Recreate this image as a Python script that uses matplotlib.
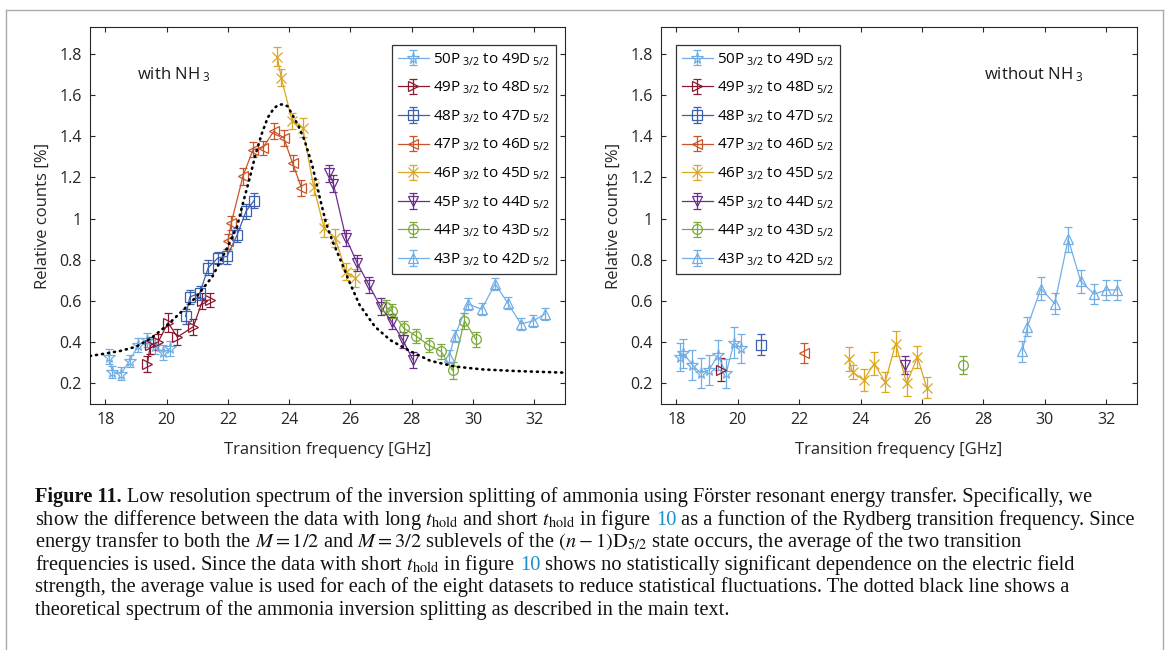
import numpy as np
import matplotlib
matplotlib.use('Agg')
import matplotlib.pyplot as plt
from matplotlib.lines import Line2D

plt.rcParams['font.family'] = ['Open Sans', 'DejaVu Sans']
plt.rcParams['mathtext.fontset'] = 'custom'
plt.rcParams['mathtext.rm'] = 'Open Sans'
plt.rcParams['mathtext.it'] = 'Open Sans:italic'
plt.rcParams['mathtext.bf'] = 'Open Sans:bold'

W, H = 1169, 650

# ---- data ----
labels = [r'50P$_{\;\mathrm{3/2}}$ to 49D$_{\;\mathrm{5/2}}$',
          r'49P$_{\;\mathrm{3/2}}$ to 48D$_{\;\mathrm{5/2}}$',
          r'48P$_{\;\mathrm{3/2}}$ to 47D$_{\;\mathrm{5/2}}$',
          r'47P$_{\;\mathrm{3/2}}$ to 46D$_{\;\mathrm{5/2}}$',
          r'46P$_{\;\mathrm{3/2}}$ to 45D$_{\;\mathrm{5/2}}$',
          r'45P$_{\;\mathrm{3/2}}$ to 44D$_{\;\mathrm{5/2}}$',
          r'44P$_{\;\mathrm{3/2}}$ to 43D$_{\;\mathrm{5/2}}$',
          r'43P$_{\;\mathrm{3/2}}$ to 42D$_{\;\mathrm{5/2}}$']
colors = ['#72aee6', '#8b1a30', '#3d5fb0', '#c8552a',
          '#dba723', '#6b2d8b', '#7aa83a', '#72aee6']
markers = ['*', '>', 's', '<', 'x', 'v', 'o', '^']

# with NH3
x50 = [18.12, 18.23, 18.52, 18.79, 19.07, 19.35, 19.62, 19.88, 20.12]
w50 = [0.33, 0.256, 0.248, 0.31, 0.385, 0.41, 0.38, 0.35, 0.37]
e50 = [0.035, 0.03, 0.03, 0.03, 0.035, 0.035, 0.035, 0.035, 0.035]

x49 = [19.37, 19.47, 19.72, 20.05, 20.35, 20.87, 21.17, 21.42]
w49 = [0.295, 0.385, 0.40, 0.495, 0.425, 0.475, 0.60, 0.605]
e49 = [0.04, 0.04, 0.04, 0.045, 0.04, 0.04, 0.04, 0.035]

x48 = [20.62, 20.76, 21.08, 21.36, 21.68, 21.97, 22.3, 22.59, 22.85]
w48 = [0.525, 0.62, 0.638, 0.762, 0.81, 0.816, 0.92, 1.035, 1.087]
e48 = [0.035, 0.035, 0.035, 0.035, 0.03, 0.035, 0.035, 0.035, 0.035]

x47 = [22.0, 22.11, 22.49, 22.82, 23.14, 23.5, 23.82, 24.11, 24.4]
w47 = [0.889, 0.979, 1.205, 1.335, 1.344, 1.424, 1.392, 1.27, 1.149]
e47 = [0.035, 0.035, 0.04, 0.035, 0.035, 0.04, 0.04, 0.04, 0.04]

x46 = [23.61, 23.74, 24.1, 24.44, 24.8, 25.14, 25.5, 25.85, 26.15]
w46 = [1.786, 1.684, 1.473, 1.441, 1.153, 0.954, 0.905, 0.743, 0.711]
e46 = [0.045, 0.04, 0.04, 0.045, 0.04, 0.045, 0.045, 0.04, 0.045]

x45 = [25.31, 25.44, 25.85, 26.22, 26.6, 26.98, 27.34, 27.71, 28.04]
w45 = [1.22, 1.17, 0.906, 0.784, 0.678, 0.573, 0.5, 0.41, 0.313]
e45 = [0.04, 0.04, 0.04, 0.04, 0.04, 0.04, 0.035, 0.04, 0.04]

x44 = [27.17, 27.34, 27.74, 28.14, 28.55, 28.96, 29.33, 29.72, 30.09]
w44 = [0.57, 0.552, 0.468, 0.43, 0.386, 0.355, 0.263, 0.504, 0.414]
e44 = [0.035, 0.035, 0.035, 0.035, 0.035, 0.035, 0.04, 0.04, 0.035]

x43 = [29.22, 29.4, 29.83, 30.28, 30.72, 31.13, 31.56, 31.96, 32.34]
w43 = [0.33, 0.43, 0.586, 0.56, 0.683, 0.59, 0.489, 0.503, 0.537]
e43 = [0.03, 0.03, 0.03, 0.03, 0.028, 0.03, 0.03, 0.028, 0.03]

# without NH3
wo50 = [0.328, 0.347, 0.29, 0.25, 0.265, 0.338, 0.25, 0.398, 0.37]
eo50 = [0.07, 0.07, 0.073, 0.073, 0.073, 0.073, 0.07, 0.075, 0.07]
xo49, wo49, eo49 = [19.47], [0.267], [0.055]
xo48, wo48, eo48 = [20.75], [0.388], [0.05]
xo47, wo47, eo47 = [22.16], [0.347], [0.047]
wo46 = [0.318, 0.255, 0.216, 0.296, 0.207, 0.393, 0.2, 0.328, 0.18]
eo46 = [0.06, 0.035, 0.055, 0.055, 0.05, 0.06, 0.06, 0.055, 0.05]
xo45, wo45, eo45 = [25.45], [0.29], [0.045]
xo44, wo44, eo44 = [27.34], [0.289], [0.045]
xo43 = [29.27, 29.43, 29.87, 30.32, 30.76, 31.17, 31.61, 32.0, 32.36]
wo43 = [0.356, 0.475, 0.66, 0.587, 0.9, 0.695, 0.633, 0.654, 0.654]
eo43 = [0.05, 0.045, 0.055, 0.05, 0.06, 0.055, 0.05, 0.05, 0.05]

# theoretical spectrum (dotted black), sampled off the figure
theory_x = [17.5, 18.0, 18.5, 19.0, 19.5, 20.0, 20.5, 21.0, 21.5, 22.0, 22.3,
            22.5, 22.7, 22.9, 23.1, 23.3, 23.5, 23.65, 23.8, 23.95, 24.1, 24.3,
            24.5, 24.75, 25.0, 25.2, 25.4, 25.7, 26.0, 26.3, 26.8, 27.3, 27.9,
            28.6, 29.4, 30.3, 31.4, 33.0]
theory_y = [0.333, 0.345, 0.358, 0.378, 0.42, 0.48, 0.55, 0.625, 0.72, 0.865,
            0.962, 1.08, 1.19, 1.31, 1.41, 1.49, 1.535, 1.552, 1.555, 1.545,
            1.505, 1.45, 1.38, 1.26, 1.10, 0.98, 0.895, 0.79, 0.68, 0.58,
            0.475, 0.41, 0.36, 0.31, 0.282, 0.268, 0.26, 0.252]

with_sets = [(x50, w50, e50), (x49, w49, e49), (x48, w48, e48), (x47, w47, e47),
             (x46, w46, e46), (x45, w45, e45), (x44, w44, e44), (x43, w43, e43)]
without_sets = [(x50, wo50, eo50), (xo49, wo49, eo49), (xo48, wo48, eo48),
                (xo47, wo47, eo47), (x46, wo46, eo46), (xo45, wo45, eo45),
                (xo44, wo44, eo44), (xo43, wo43, eo43)]

xticks = [18, 20, 22, 24, 26, 28, 30, 32]
yticks = [0.2, 0.4, 0.6, 0.8, 1.0, 1.2, 1.4, 1.6, 1.8]
ytick_labels = ['0.2', '0.4', '0.6', '0.8', '1', '1.2', '1.4', '1.6', '1.8']

fig = plt.figure(figsize=(W / 100, H / 100), dpi=100)
axc = '#262626'


def px_axes(x0, x1, ytop, ybot):
    return fig.add_axes([x0 / W, 1 - ybot / H, (x1 - x0) / W, (ybot - ytop) / H])


def style(ax):
    ax.set_xlim(17.5, 33)
    ax.set_ylim(0.1, 1.93)
    ax.set_xticks(xticks)
    ax.set_xticklabels([str(t) for t in xticks])
    ax.set_yticks(yticks)
    ax.set_yticklabels(ytick_labels)
    ax.tick_params(direction='in', top=True, right=True, length=3.5, width=0.8,
                   labelsize=11.5, colors=axc, pad=6)
    for s in ax.spines.values():
        s.set_color(axc)
        s.set_linewidth(0.8)
    ax.set_xlabel('Transition frequency [GHz]', fontsize=12, color=axc, labelpad=10)
    ax.set_ylabel('Relative counts [%]', fontsize=12, color=axc, labelpad=6)


def draw_sets(ax, sets):
    for (x, y, e), c, m, lab in zip(sets, colors, markers, labels):
        ax.errorbar(x, y, yerr=e, color=c, marker=m, mfc='none', mec=c,
                    ms=7 if m != '*' else 8.5, lw=0.9, elinewidth=0.9,
                    capsize=3.2, capthick=0.9, mew=0.9, label=lab)
    leg = ax.legend(loc='upper left', bbox_to_anchor=(0, 0), fontsize=11,
                    frameon=True, fancybox=False, framealpha=1,
                    labelspacing=0.8, handlelength=2.0, handletextpad=0.3,
                    borderpad=0.4, borderaxespad=0)
    leg.get_frame().set_edgecolor('#333333')
    leg.get_frame().set_linewidth(0.9)
    return leg


ax1 = px_axes(90, 565, 27, 404)
style(ax1)
leg1 = draw_sets(ax1, with_sets)
leg1.set_bbox_to_anchor(((392 - 90) / 475, (404 - 45) / 377), transform=ax1.transAxes)
ax1.plot(theory_x, theory_y, color='black', lw=1.9, ls=(0, (0.4, 1.9)),
         dash_capstyle='round', zorder=5)
ax1.text(0.099, 0.862, r'with NH$_{\;3}$', transform=ax1.transAxes, fontsize=12,
         color='#1a1a1a', va='baseline')

ax2 = px_axes(661, 1137, 27, 404)
style(ax2)
leg2 = draw_sets(ax2, without_sets)
leg2.set_bbox_to_anchor(((676 - 661) / 476, (404 - 45) / 377), transform=ax2.transAxes)
ax2.text((984 - 661) / 476, 0.862, r'without NH$_{\;3}$', transform=ax2.transAxes,
         fontsize=12, color='#1a1a1a', va='baseline')

# outer frame
for xs, ys in [([6, 6], [650, 10]), ([6, 1163], [10, 10]), ([1163, 1163], [10, 650])]:
    fig.add_artist(Line2D([v / W for v in xs], [1 - v / H for v in ys],
                          transform=fig.transFigure, color='#aaaaaa', lw=1))

# caption
renderer = fig.canvas.get_renderer()
serif = ['Liberation Serif', 'DejaVu Serif']
blue = '#1a8fd0'

cap_lines = [
    [('Figure 11.', 'bold'), ('Low resolution spectrum of the inversion splitting of ammonia using '
                             'F\u00f6rster resonant energy transfer. Specifically, we', None)],
    [(r'show the difference between the data with long $t_{\rm hold}$ and short $t_{\rm hold}$ in figure', None),
     ('10', 'blue'), ('as a function of the Rydberg transition frequency. Since', None)],
    [(r'energy transfer to both the $M = 1/2$ and $M = 3/2$ sublevels of the $(n - 1)\mathrm{D}_{5/2}$'
      r' state occurs, the average of the two transition', None)],
    [(r'frequencies is used. Since the data with short $t_{\rm hold}$ in figure', None), ('10', 'blue'),
     ('shows no statistically significant dependence on the electric field', None)],
    [('strength, the average value is used for each of the eight datasets to reduce statistical '
      'fluctuations. The dotted black line shows a', None)],
    [('theoretical spectrum of the ammonia inversion splitting as described in the main text.', None)],
]
cap_base = [502, 525, 547, 570, 592, 615]


def put(x, y, s, kind, size):
    kw = dict(fontsize=size, family=serif, math_fontfamily='stix', va='baseline', ha='left')
    if kind == 'bold':
        kw['fontweight'] = 'bold'
    if kind == 'blue':
        kw['color'] = blue
    else:
        kw['color'] = '#111111'
    return fig.text(x / W, 1 - y / H, s, **kw)


def space_w(size):
    a = put(0, -100, 'x x', None, size)
    b = put(0, -100, 'xx', None, size)
    w = a.get_window_extent(renderer).width - b.get_window_extent(renderer).width
    a.remove()
    b.remove()
    return w


def draw_line(parts, y, size, keep=True):
    x = 35
    sp = space_w(size)
    made = []
    for s, kind in parts:
        t = put(x, y, s, kind, size)
        made.append(t)
        x = t.get_window_extent(renderer).x1 + sp
    if not keep:
        for t in made:
            t.remove()
    return x - sp - 35


wtest = draw_line(cap_lines[1], 525, 12, keep=False)
csize = 12 * 1101 / wtest
for parts, yb in zip(cap_lines, cap_base):
    draw_line(parts, yb, csize)

fig.savefig('out.png', dpi=100)
